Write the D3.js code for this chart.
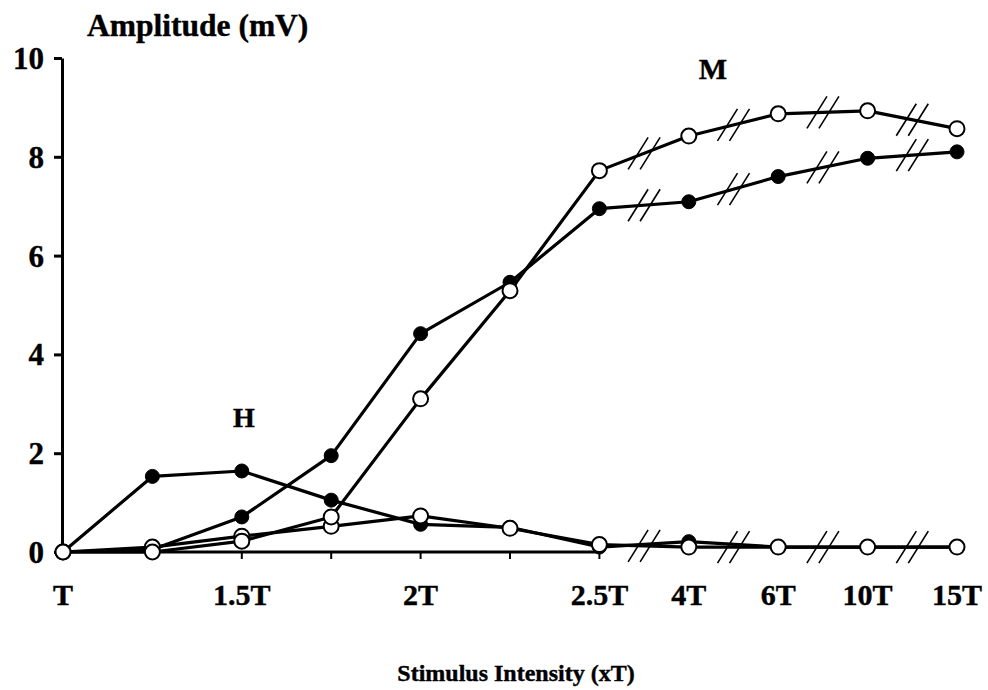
<!DOCTYPE html>
<html>
<head>
<meta charset="utf-8">
<script src="https://cdn.jsdelivr.net/npm/d3@7"></script>
<style>
  html, body { margin: 0; padding: 0; background: #fff; }
  svg text { font-family: "Liberation Serif", "Times New Roman", serif; font-weight: bold; fill: #000; stroke: #000; stroke-width: 0.4px; }
</style>
</head>
<body>
<svg id="chart" width="988" height="690"></svg>
<script>
// Stimulus intensity steps (multiples of threshold T)
const categories = ["T", "1.25T", "1.5T", "1.75T", "2T", "2.25T", "2.5T", "4T", "6T", "10T", "15T"];
const tickLabels = ["T", "", "1.5T", "", "2T", "", "2.5T", "4T", "6T", "10T", "15T"];
const yTicks = [0, 2, 4, 6, 8, 10];

// Amplitudes in mV
const mFilled = [0.0, 0.05, 0.71, 1.95, 4.42, 5.46, 6.95, 7.09, 7.6, 7.97, 8.1];
const mOpen   = [0.0, 0.0, 0.22, 0.71, 3.1, 5.29, 7.72, 8.42, 8.87, 8.93, 8.57];
const hFilled = [0.0, 1.53, 1.64, 1.05, 0.56, 0.5, 0.1, 0.21, 0.1, 0.1, 0.1];
const hOpen   = [0.0, 0.1, 0.32, 0.52, 0.73, 0.48, 0.15, 0.1, 0.1, 0.1, 0.1];

// Segments after 2.5T are drawn with "//" break marks
const brokenFrom = 6;

const svg = d3.select("#chart");
const x = d3.scalePoint().domain(categories).range([63, 957]);
const y = d3.scaleLinear().domain([0, 10]).range([552, 58]);

// Y axis
const yAxis = svg.append("g").attr("transform", "translate(62,0)")
  .call(d3.axisLeft(y).tickValues(yTicks).tickSize(8).tickSizeOuter(0).tickPadding(10).tickFormat(d3.format("d")));
yAxis.select(".domain").attr("stroke", "#000").attr("stroke-width", 3);
yAxis.selectAll(".tick line").attr("stroke", "#000").attr("stroke-width", 3);
yAxis.selectAll(".tick text").attr("font-size", 31).attr("font-family", null).attr("dy", "0.34em");

// X axis (continuous part up to 2.5T)
const xAxisCats = categories.slice(0, brokenFrom + 1);
svg.append("line")
  .attr("x1", 62).attr("x2", x(categories[brokenFrom]))
  .attr("y1", y(0)).attr("y2", y(0))
  .attr("stroke", "#000").attr("stroke-width", 3);
svg.append("g").selectAll("line").data(xAxisCats.slice(1)).join("line")
  .attr("x1", d => x(d)).attr("x2", d => x(d))
  .attr("y1", y(0)).attr("y2", y(0) + 7)
  .attr("stroke", "#000").attr("stroke-width", 2);

// X tick labels
svg.append("g").selectAll("text").data(categories).join("text")
  .attr("x", d => x(d)).attr("y", 605)
  .attr("text-anchor", "middle").attr("font-size", 30)
  .text((d, i) => tickLabels[i]);

// Titles
svg.append("text").attr("x", 87).attr("y", 36).attr("font-size", 31.5).text("Amplitude (mV)");
svg.append("text").attr("x", 516).attr("y", 681).attr("text-anchor", "middle").attr("font-size", 24).text("Stimulus Intensity (xT)");
svg.append("text").attr("x", 713).attr("y", 79).attr("text-anchor", "middle").attr("font-size", 30).text("M");
svg.append("text").attr("x", 244).attr("y", 427).attr("text-anchor", "middle").attr("font-size", 28).text("H");

const line = d3.line().x((d, i) => x(categories[i])).y(d => y(d));

const series = [
  { values: hFilled, filled: true },
  { values: mFilled, filled: true },
  { values: hOpen, filled: false },
  { values: mOpen, filled: false }
];

// Lines
const gLines = svg.append("g");
series.forEach(s => {
  gLines.append("path").attr("d", line(s.values))
    .attr("fill", "none").attr("stroke", "#000").attr("stroke-width", 3.2).attr("stroke-linejoin", "round");
});

// Break marks at the middle of each segment beyond 2.5T
const gBreaks = svg.append("g");
[mFilled, mOpen, hOpen].forEach(vals => {
  for (let i = brokenFrom; i < categories.length - 1; i++) {
    const cx = (x(categories[i]) + x(categories[i + 1])) / 2;
    const cy = (y(vals[i]) + y(vals[i + 1])) / 2;
    [-6, 6].forEach(off => {
      gBreaks.append("line")
        .attr("x1", cx + off - 10).attr("y1", cy + 16)
        .attr("x2", cx + off + 10).attr("y2", cy - 16)
        .attr("stroke", "#000").attr("stroke-width", 1.6);
    });
  }
});

// Markers
series.forEach(s => {
  svg.append("g").selectAll("circle").data(s.values).join("circle")
    .attr("cx", (d, i) => x(categories[i])).attr("cy", d => y(d))
    .attr("r", s.filled ? 7 : 7.5)
    .attr("fill", s.filled ? "#000" : "#fff")
    .attr("stroke", "#000").attr("stroke-width", s.filled ? 1 : 2);
});
</script>
</body>
</html>
